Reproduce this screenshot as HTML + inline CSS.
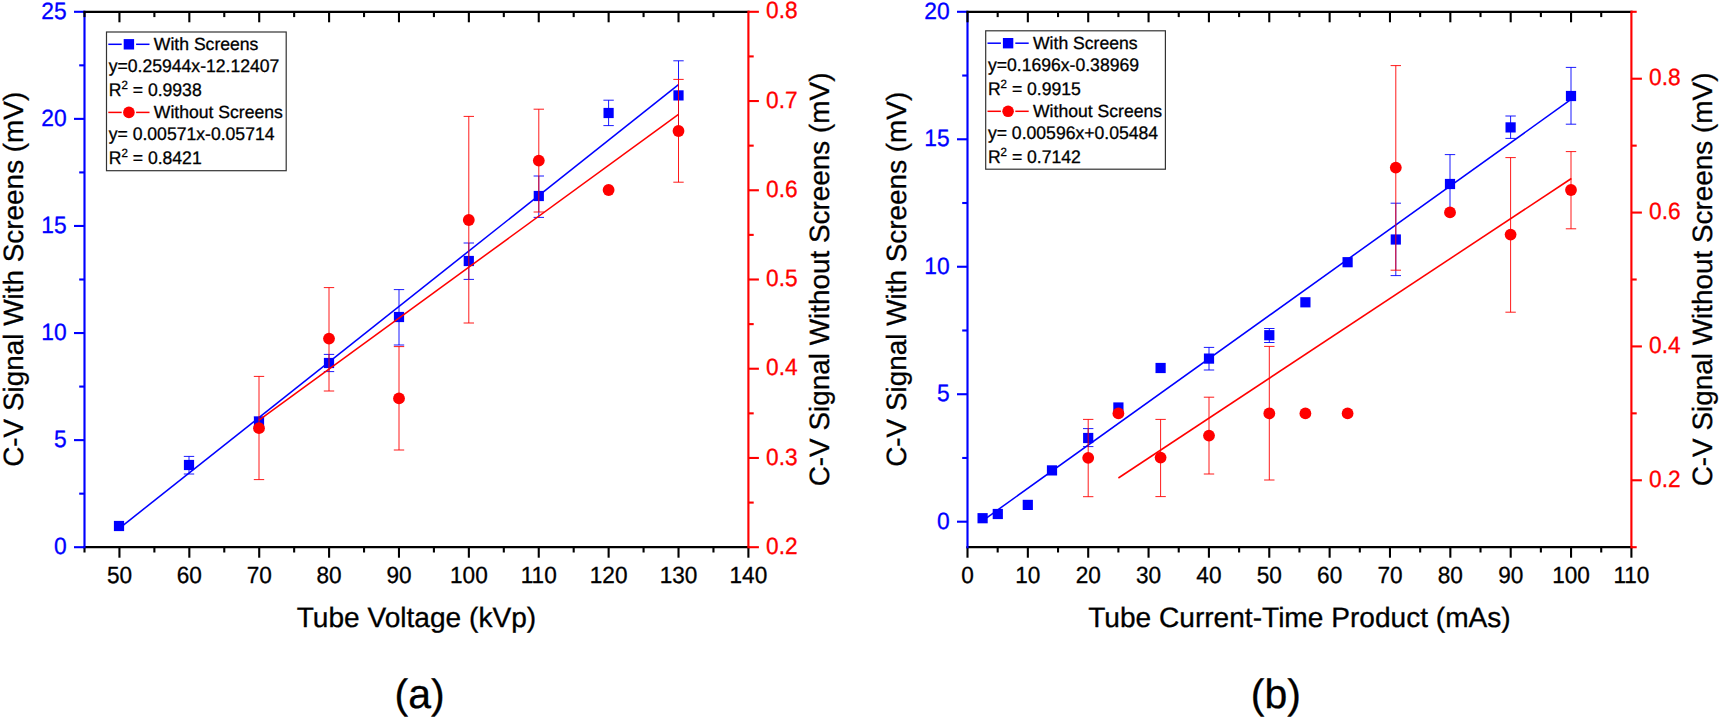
<!DOCTYPE html>
<html lang="en"><head><meta charset="utf-8"><title>C-V signal charts</title>
<style>html,body{margin:0;padding:0;background:#fff;}body{width:1720px;height:720px;overflow:hidden;}svg{display:block;font-family:"Liberation Sans",sans-serif;}svg text{white-space:pre;stroke-width:0.3px;stroke-linejoin:round;text-rendering:geometricPrecision;}</style></head><body>
<svg width="1720" height="720" viewBox="0 0 1720 720">
<rect width="1720" height="720" fill="#fff"/>
<g class="chart">
<line x1="189" y1="456.4" x2="189" y2="474" stroke="#0000ff" stroke-width="0.9" stroke-opacity="1"/>
<line x1="183.8" y1="456.4" x2="194.2" y2="456.4" stroke="#0000ff" stroke-width="0.9" stroke-opacity="1"/>
<line x1="183.8" y1="474" x2="194.2" y2="474" stroke="#0000ff" stroke-width="0.9" stroke-opacity="1"/>
<line x1="259" y1="416.8" x2="259" y2="427.2" stroke="#0000ff" stroke-width="0.9" stroke-opacity="1"/>
<line x1="253.8" y1="416.8" x2="264.2" y2="416.8" stroke="#0000ff" stroke-width="0.9" stroke-opacity="1"/>
<line x1="253.8" y1="427.2" x2="264.2" y2="427.2" stroke="#0000ff" stroke-width="0.9" stroke-opacity="1"/>
<line x1="329" y1="354.4" x2="329" y2="371.6" stroke="#0000ff" stroke-width="0.9" stroke-opacity="1"/>
<line x1="323.8" y1="354.4" x2="334.2" y2="354.4" stroke="#0000ff" stroke-width="0.9" stroke-opacity="1"/>
<line x1="323.8" y1="371.6" x2="334.2" y2="371.6" stroke="#0000ff" stroke-width="0.9" stroke-opacity="1"/>
<line x1="399" y1="289.6" x2="399" y2="345" stroke="#0000ff" stroke-width="0.9" stroke-opacity="1"/>
<line x1="393.8" y1="289.6" x2="404.2" y2="289.6" stroke="#0000ff" stroke-width="0.9" stroke-opacity="1"/>
<line x1="393.8" y1="345" x2="404.2" y2="345" stroke="#0000ff" stroke-width="0.9" stroke-opacity="1"/>
<line x1="468.8" y1="243" x2="468.8" y2="279.4" stroke="#0000ff" stroke-width="0.9" stroke-opacity="1"/>
<line x1="463.6" y1="243" x2="474" y2="243" stroke="#0000ff" stroke-width="0.9" stroke-opacity="1"/>
<line x1="463.6" y1="279.4" x2="474" y2="279.4" stroke="#0000ff" stroke-width="0.9" stroke-opacity="1"/>
<line x1="538.8" y1="176" x2="538.8" y2="217.4" stroke="#0000ff" stroke-width="0.9" stroke-opacity="1"/>
<line x1="533.6" y1="176" x2="544" y2="176" stroke="#0000ff" stroke-width="0.9" stroke-opacity="1"/>
<line x1="533.6" y1="217.4" x2="544" y2="217.4" stroke="#0000ff" stroke-width="0.9" stroke-opacity="1"/>
<line x1="608.6" y1="100.2" x2="608.6" y2="125.6" stroke="#0000ff" stroke-width="0.9" stroke-opacity="1"/>
<line x1="603.4" y1="100.2" x2="613.8" y2="100.2" stroke="#0000ff" stroke-width="0.9" stroke-opacity="1"/>
<line x1="603.4" y1="125.6" x2="613.8" y2="125.6" stroke="#0000ff" stroke-width="0.9" stroke-opacity="1"/>
<line x1="678.5" y1="60.8" x2="678.5" y2="130" stroke="#0000ff" stroke-width="0.9" stroke-opacity="1"/>
<line x1="673.3" y1="60.8" x2="683.7" y2="60.8" stroke="#0000ff" stroke-width="0.9" stroke-opacity="1"/>
<line x1="673.3" y1="130" x2="683.7" y2="130" stroke="#0000ff" stroke-width="0.9" stroke-opacity="1"/>
<line x1="119" y1="528.6" x2="678.5" y2="84.7" stroke="#0000ff" stroke-width="1.55"/>
<rect x="113.9" y="520.9" width="10.2" height="10.2" fill="#0000ff"/>
<rect x="183.9" y="459.9" width="10.2" height="10.2" fill="#0000ff"/>
<rect x="253.9" y="416.9" width="10.2" height="10.2" fill="#0000ff"/>
<rect x="323.9" y="357.9" width="10.2" height="10.2" fill="#0000ff"/>
<rect x="393.9" y="311.9" width="10.2" height="10.2" fill="#0000ff"/>
<rect x="463.7" y="255.9" width="10.2" height="10.2" fill="#0000ff"/>
<rect x="533.7" y="190.9" width="10.2" height="10.2" fill="#0000ff"/>
<rect x="603.5" y="107.9" width="10.2" height="10.2" fill="#0000ff"/>
<rect x="673.4" y="90.3" width="10.2" height="10.2" fill="#0000ff"/>
<line x1="259" y1="376.4" x2="259" y2="479.6" stroke="#ff0000" stroke-width="0.9" stroke-opacity="1"/>
<line x1="253.8" y1="376.4" x2="264.2" y2="376.4" stroke="#ff0000" stroke-width="0.9" stroke-opacity="1"/>
<line x1="253.8" y1="479.6" x2="264.2" y2="479.6" stroke="#ff0000" stroke-width="0.9" stroke-opacity="1"/>
<line x1="329" y1="287.6" x2="329" y2="391" stroke="#ff0000" stroke-width="0.9" stroke-opacity="1"/>
<line x1="323.8" y1="287.6" x2="334.2" y2="287.6" stroke="#ff0000" stroke-width="0.9" stroke-opacity="1"/>
<line x1="323.8" y1="391" x2="334.2" y2="391" stroke="#ff0000" stroke-width="0.9" stroke-opacity="1"/>
<line x1="399" y1="346.6" x2="399" y2="450" stroke="#ff0000" stroke-width="0.9" stroke-opacity="1"/>
<line x1="393.8" y1="346.6" x2="404.2" y2="346.6" stroke="#ff0000" stroke-width="0.9" stroke-opacity="1"/>
<line x1="393.8" y1="450" x2="404.2" y2="450" stroke="#ff0000" stroke-width="0.9" stroke-opacity="1"/>
<line x1="468.8" y1="116.4" x2="468.8" y2="323" stroke="#ff0000" stroke-width="0.9" stroke-opacity="1"/>
<line x1="463.6" y1="116.4" x2="474" y2="116.4" stroke="#ff0000" stroke-width="0.9" stroke-opacity="1"/>
<line x1="463.6" y1="323" x2="474" y2="323" stroke="#ff0000" stroke-width="0.9" stroke-opacity="1"/>
<line x1="538.8" y1="109.2" x2="538.8" y2="212" stroke="#ff0000" stroke-width="0.9" stroke-opacity="1"/>
<line x1="533.6" y1="109.2" x2="544" y2="109.2" stroke="#ff0000" stroke-width="0.9" stroke-opacity="1"/>
<line x1="533.6" y1="212" x2="544" y2="212" stroke="#ff0000" stroke-width="0.9" stroke-opacity="1"/>
<line x1="678.5" y1="79.4" x2="678.5" y2="182.2" stroke="#ff0000" stroke-width="0.9" stroke-opacity="1"/>
<line x1="673.3" y1="79.4" x2="683.7" y2="79.4" stroke="#ff0000" stroke-width="0.9" stroke-opacity="1"/>
<line x1="673.3" y1="182.2" x2="683.7" y2="182.2" stroke="#ff0000" stroke-width="0.9" stroke-opacity="1"/>
<line x1="259" y1="420.2" x2="678.5" y2="114.3" stroke="#ff0000" stroke-width="1.55"/>
<circle cx="259" cy="428.2" r="5.9" fill="#ff0000"/>
<circle cx="329" cy="338.6" r="5.9" fill="#ff0000"/>
<circle cx="399" cy="398.4" r="5.9" fill="#ff0000"/>
<circle cx="468.8" cy="220" r="5.9" fill="#ff0000"/>
<circle cx="538.8" cy="160.6" r="5.9" fill="#ff0000"/>
<circle cx="608.6" cy="190" r="5.9" fill="#ff0000"/>
<circle cx="678.5" cy="131" r="5.9" fill="#ff0000"/>
<line x1="83.42" y1="547.2" x2="749.48" y2="547.2" stroke="#000000" stroke-width="2.3"/>
<line x1="84.5" y1="547.2" x2="84.5" y2="552.5" stroke="#000000" stroke-width="2.1"/>
<line x1="119.44" y1="547.2" x2="119.44" y2="557.7" stroke="#000000" stroke-width="2.1"/>
<text transform="translate(119.44 582.5) scale(1 1.035)" font-size="22.6" fill="#000000" stroke="#000000" text-anchor="middle">50</text>
<line x1="154.38" y1="547.2" x2="154.38" y2="552.5" stroke="#000000" stroke-width="2.1"/>
<line x1="189.33" y1="547.2" x2="189.33" y2="557.7" stroke="#000000" stroke-width="2.1"/>
<text transform="translate(189.33 582.5) scale(1 1.035)" font-size="22.6" fill="#000000" stroke="#000000" text-anchor="middle">60</text>
<line x1="224.27" y1="547.2" x2="224.27" y2="552.5" stroke="#000000" stroke-width="2.1"/>
<line x1="259.21" y1="547.2" x2="259.21" y2="557.7" stroke="#000000" stroke-width="2.1"/>
<text transform="translate(259.21 582.5) scale(1 1.035)" font-size="22.6" fill="#000000" stroke="#000000" text-anchor="middle">70</text>
<line x1="294.15" y1="547.2" x2="294.15" y2="552.5" stroke="#000000" stroke-width="2.1"/>
<line x1="329.09" y1="547.2" x2="329.09" y2="557.7" stroke="#000000" stroke-width="2.1"/>
<text transform="translate(329.09 582.5) scale(1 1.035)" font-size="22.6" fill="#000000" stroke="#000000" text-anchor="middle">80</text>
<line x1="364.04" y1="547.2" x2="364.04" y2="552.5" stroke="#000000" stroke-width="2.1"/>
<line x1="398.98" y1="547.2" x2="398.98" y2="557.7" stroke="#000000" stroke-width="2.1"/>
<text transform="translate(398.98 582.5) scale(1 1.035)" font-size="22.6" fill="#000000" stroke="#000000" text-anchor="middle">90</text>
<line x1="433.92" y1="547.2" x2="433.92" y2="552.5" stroke="#000000" stroke-width="2.1"/>
<line x1="468.86" y1="547.2" x2="468.86" y2="557.7" stroke="#000000" stroke-width="2.1"/>
<text transform="translate(468.86 582.5) scale(1 1.035)" font-size="22.6" fill="#000000" stroke="#000000" text-anchor="middle">100</text>
<line x1="503.81" y1="547.2" x2="503.81" y2="552.5" stroke="#000000" stroke-width="2.1"/>
<line x1="538.75" y1="547.2" x2="538.75" y2="557.7" stroke="#000000" stroke-width="2.1"/>
<text transform="translate(538.75 582.5) scale(1 1.035)" font-size="22.6" fill="#000000" stroke="#000000" text-anchor="middle">110</text>
<line x1="573.69" y1="547.2" x2="573.69" y2="552.5" stroke="#000000" stroke-width="2.1"/>
<line x1="608.63" y1="547.2" x2="608.63" y2="557.7" stroke="#000000" stroke-width="2.1"/>
<text transform="translate(608.63 582.5) scale(1 1.035)" font-size="22.6" fill="#000000" stroke="#000000" text-anchor="middle">120</text>
<line x1="643.57" y1="547.2" x2="643.57" y2="552.5" stroke="#000000" stroke-width="2.1"/>
<line x1="678.52" y1="547.2" x2="678.52" y2="557.7" stroke="#000000" stroke-width="2.1"/>
<text transform="translate(678.52 582.5) scale(1 1.035)" font-size="22.6" fill="#000000" stroke="#000000" text-anchor="middle">130</text>
<line x1="713.46" y1="547.2" x2="713.46" y2="552.5" stroke="#000000" stroke-width="2.1"/>
<line x1="748.4" y1="547.2" x2="748.4" y2="557.7" stroke="#000000" stroke-width="2.1"/>
<text transform="translate(748.4 582.5) scale(1 1.035)" font-size="22.6" fill="#000000" stroke="#000000" text-anchor="middle">140</text>
<line x1="84.5" y1="10.65" x2="84.5" y2="548.35" stroke="#0000ff" stroke-width="2.15"/>
<line x1="74" y1="547.2" x2="84.5" y2="547.2" stroke="#0000ff" stroke-width="2.1"/>
<text transform="translate(66.7 554.05) scale(1 1.035)" font-size="22.8" fill="#0000ff" stroke="#0000ff" text-anchor="end">0</text>
<line x1="79.2" y1="493.66" x2="84.5" y2="493.66" stroke="#0000ff" stroke-width="2.1"/>
<line x1="74" y1="440.12" x2="84.5" y2="440.12" stroke="#0000ff" stroke-width="2.1"/>
<text transform="translate(66.7 446.97) scale(1 1.035)" font-size="22.8" fill="#0000ff" stroke="#0000ff" text-anchor="end">5</text>
<line x1="79.2" y1="386.58" x2="84.5" y2="386.58" stroke="#0000ff" stroke-width="2.1"/>
<line x1="74" y1="333.04" x2="84.5" y2="333.04" stroke="#0000ff" stroke-width="2.1"/>
<text transform="translate(66.7 339.89) scale(1 1.035)" font-size="22.8" fill="#0000ff" stroke="#0000ff" text-anchor="end">10</text>
<line x1="79.2" y1="279.5" x2="84.5" y2="279.5" stroke="#0000ff" stroke-width="2.1"/>
<line x1="74" y1="225.96" x2="84.5" y2="225.96" stroke="#0000ff" stroke-width="2.1"/>
<text transform="translate(66.7 232.81) scale(1 1.035)" font-size="22.8" fill="#0000ff" stroke="#0000ff" text-anchor="end">15</text>
<line x1="79.2" y1="172.42" x2="84.5" y2="172.42" stroke="#0000ff" stroke-width="2.1"/>
<line x1="74" y1="118.88" x2="84.5" y2="118.88" stroke="#0000ff" stroke-width="2.1"/>
<text transform="translate(66.7 125.73) scale(1 1.035)" font-size="22.8" fill="#0000ff" stroke="#0000ff" text-anchor="end">20</text>
<line x1="79.2" y1="65.34" x2="84.5" y2="65.34" stroke="#0000ff" stroke-width="2.1"/>
<line x1="74" y1="11.8" x2="84.5" y2="11.8" stroke="#0000ff" stroke-width="2.1"/>
<text transform="translate(66.7 18.65) scale(1 1.035)" font-size="22.8" fill="#0000ff" stroke="#0000ff" text-anchor="end">25</text>
<line x1="83.42" y1="11.8" x2="749.48" y2="11.8" stroke="#000000" stroke-width="2.3"/>
<line x1="84.5" y1="11.8" x2="84.5" y2="17.1" stroke="#000000" stroke-width="2.1"/>
<line x1="119.44" y1="11.8" x2="119.44" y2="22.3" stroke="#000000" stroke-width="2.1"/>
<line x1="154.38" y1="11.8" x2="154.38" y2="17.1" stroke="#000000" stroke-width="2.1"/>
<line x1="189.33" y1="11.8" x2="189.33" y2="22.3" stroke="#000000" stroke-width="2.1"/>
<line x1="224.27" y1="11.8" x2="224.27" y2="17.1" stroke="#000000" stroke-width="2.1"/>
<line x1="259.21" y1="11.8" x2="259.21" y2="22.3" stroke="#000000" stroke-width="2.1"/>
<line x1="294.15" y1="11.8" x2="294.15" y2="17.1" stroke="#000000" stroke-width="2.1"/>
<line x1="329.09" y1="11.8" x2="329.09" y2="22.3" stroke="#000000" stroke-width="2.1"/>
<line x1="364.04" y1="11.8" x2="364.04" y2="17.1" stroke="#000000" stroke-width="2.1"/>
<line x1="398.98" y1="11.8" x2="398.98" y2="22.3" stroke="#000000" stroke-width="2.1"/>
<line x1="433.92" y1="11.8" x2="433.92" y2="17.1" stroke="#000000" stroke-width="2.1"/>
<line x1="468.86" y1="11.8" x2="468.86" y2="22.3" stroke="#000000" stroke-width="2.1"/>
<line x1="503.81" y1="11.8" x2="503.81" y2="17.1" stroke="#000000" stroke-width="2.1"/>
<line x1="538.75" y1="11.8" x2="538.75" y2="22.3" stroke="#000000" stroke-width="2.1"/>
<line x1="573.69" y1="11.8" x2="573.69" y2="17.1" stroke="#000000" stroke-width="2.1"/>
<line x1="608.63" y1="11.8" x2="608.63" y2="22.3" stroke="#000000" stroke-width="2.1"/>
<line x1="643.57" y1="11.8" x2="643.57" y2="17.1" stroke="#000000" stroke-width="2.1"/>
<line x1="678.52" y1="11.8" x2="678.52" y2="22.3" stroke="#000000" stroke-width="2.1"/>
<line x1="713.46" y1="11.8" x2="713.46" y2="17.1" stroke="#000000" stroke-width="2.1"/>
<line x1="748.4" y1="10.65" x2="748.4" y2="548.35" stroke="#ff0000" stroke-width="2.15"/>
<line x1="748.4" y1="547.2" x2="758.9" y2="547.2" stroke="#ff0000" stroke-width="2.1"/>
<text transform="translate(766.1 553.75) scale(1 1.035)" font-size="22.7" fill="#ff0000" stroke="#ff0000" text-anchor="start">0.2</text>
<line x1="748.4" y1="502.58" x2="753.7" y2="502.58" stroke="#ff0000" stroke-width="2.1"/>
<line x1="748.4" y1="457.97" x2="758.9" y2="457.97" stroke="#ff0000" stroke-width="2.1"/>
<text transform="translate(766.1 464.52) scale(1 1.035)" font-size="22.7" fill="#ff0000" stroke="#ff0000" text-anchor="start">0.3</text>
<line x1="748.4" y1="413.35" x2="753.7" y2="413.35" stroke="#ff0000" stroke-width="2.1"/>
<line x1="748.4" y1="368.73" x2="758.9" y2="368.73" stroke="#ff0000" stroke-width="2.1"/>
<text transform="translate(766.1 375.28) scale(1 1.035)" font-size="22.7" fill="#ff0000" stroke="#ff0000" text-anchor="start">0.4</text>
<line x1="748.4" y1="324.12" x2="753.7" y2="324.12" stroke="#ff0000" stroke-width="2.1"/>
<line x1="748.4" y1="279.5" x2="758.9" y2="279.5" stroke="#ff0000" stroke-width="2.1"/>
<text transform="translate(766.1 286.05) scale(1 1.035)" font-size="22.7" fill="#ff0000" stroke="#ff0000" text-anchor="start">0.5</text>
<line x1="748.4" y1="234.88" x2="753.7" y2="234.88" stroke="#ff0000" stroke-width="2.1"/>
<line x1="748.4" y1="190.27" x2="758.9" y2="190.27" stroke="#ff0000" stroke-width="2.1"/>
<text transform="translate(766.1 196.82) scale(1 1.035)" font-size="22.7" fill="#ff0000" stroke="#ff0000" text-anchor="start">0.6</text>
<line x1="748.4" y1="145.65" x2="753.7" y2="145.65" stroke="#ff0000" stroke-width="2.1"/>
<line x1="748.4" y1="101.03" x2="758.9" y2="101.03" stroke="#ff0000" stroke-width="2.1"/>
<text transform="translate(766.1 107.58) scale(1 1.035)" font-size="22.7" fill="#ff0000" stroke="#ff0000" text-anchor="start">0.7</text>
<line x1="748.4" y1="56.42" x2="753.7" y2="56.42" stroke="#ff0000" stroke-width="2.1"/>
<line x1="748.4" y1="11.8" x2="758.9" y2="11.8" stroke="#ff0000" stroke-width="2.1"/>
<text transform="translate(766.1 18.35) scale(1 1.035)" font-size="22.7" fill="#ff0000" stroke="#ff0000" text-anchor="start">0.8</text>
<text transform="translate(416.45 626.7)" font-size="28.1" fill="#000000" stroke="#000000" text-anchor="middle">Tube Voltage (kVp)</text>
<text transform="translate(22.6 279.3) rotate(-90)" font-size="27.9" fill="#000000" stroke="#000000" text-anchor="middle">C-V Signal With Screens (mV)</text>
<text transform="translate(828.8 279.45) rotate(-90)" font-size="27.9" fill="#000000" stroke="#000000" text-anchor="middle">C-V Signal Without Screens (mV)</text>
<text transform="translate(419.6 708.4)" font-size="41" fill="#000000" stroke="#000000" text-anchor="middle">(a)</text>
<rect x="106.5" y="32" width="179.7" height="138.7" fill="#fff" stroke="#333" stroke-width="1.2"/>
<line x1="108.3" y1="44.3" x2="121.7" y2="44.3" stroke="#0000ff" stroke-width="1.5"/>
<line x1="136.1" y1="44.3" x2="149.5" y2="44.3" stroke="#0000ff" stroke-width="1.5"/>
<rect x="123.7" y="39.1" width="10.4" height="10.4" fill="#0000ff"/>
<text transform="translate(153.8 49.7)" font-size="17.6" fill="#000000" stroke="#000000" text-anchor="start">With Screens</text>
<text transform="translate(108.7 72.3) scale(1 1.035)" font-size="17.6" fill="#000000" stroke="#000000" text-anchor="start">y=0.25944x-12.12407</text>
<text transform="translate(108.7 95.9) scale(1 1.035)" font-size="17.6" fill="#000000" stroke="#000000" text-anchor="start">R<tspan font-size="11.5" dy="-6.8">2</tspan><tspan dy="6.8"> = 0.9938</tspan></text>
<line x1="108.3" y1="112.4" x2="121.7" y2="112.4" stroke="#ff0000" stroke-width="1.5"/>
<line x1="136.1" y1="112.4" x2="149.5" y2="112.4" stroke="#ff0000" stroke-width="1.5"/>
<circle cx="128.9" cy="112.4" r="5.8" fill="#ff0000"/>
<text transform="translate(153.8 117.8)" font-size="17.6" fill="#000000" stroke="#000000" text-anchor="start">Without Screens</text>
<text transform="translate(108.7 139.7) scale(1 1.035)" font-size="17.6" fill="#000000" stroke="#000000" text-anchor="start">y= 0.00571x-0.05714</text>
<text transform="translate(108.7 164.4) scale(1 1.035)" font-size="17.6" fill="#000000" stroke="#000000" text-anchor="start">R<tspan font-size="11.5" dy="-6.8">2</tspan><tspan dy="6.8"> = 0.8421</tspan></text>
</g>
<g class="chart">
<line x1="1088.2" y1="428.6" x2="1088.2" y2="446.6" stroke="#0000ff" stroke-width="0.9" stroke-opacity="1"/>
<line x1="1083" y1="428.6" x2="1093.4" y2="428.6" stroke="#0000ff" stroke-width="0.9" stroke-opacity="1"/>
<line x1="1083" y1="446.6" x2="1093.4" y2="446.6" stroke="#0000ff" stroke-width="0.9" stroke-opacity="1"/>
<line x1="1209" y1="347.4" x2="1209" y2="370" stroke="#0000ff" stroke-width="0.9" stroke-opacity="1"/>
<line x1="1203.8" y1="347.4" x2="1214.2" y2="347.4" stroke="#0000ff" stroke-width="0.9" stroke-opacity="1"/>
<line x1="1203.8" y1="370" x2="1214.2" y2="370" stroke="#0000ff" stroke-width="0.9" stroke-opacity="1"/>
<line x1="1269.3" y1="328.5" x2="1269.3" y2="342.5" stroke="#0000ff" stroke-width="0.9" stroke-opacity="1"/>
<line x1="1264.1" y1="328.5" x2="1274.5" y2="328.5" stroke="#0000ff" stroke-width="0.9" stroke-opacity="1"/>
<line x1="1264.1" y1="342.5" x2="1274.5" y2="342.5" stroke="#0000ff" stroke-width="0.9" stroke-opacity="1"/>
<line x1="1395.8" y1="203.2" x2="1395.8" y2="275.6" stroke="#0000ff" stroke-width="0.9" stroke-opacity="1"/>
<line x1="1390.6" y1="203.2" x2="1401" y2="203.2" stroke="#0000ff" stroke-width="0.9" stroke-opacity="1"/>
<line x1="1390.6" y1="275.6" x2="1401" y2="275.6" stroke="#0000ff" stroke-width="0.9" stroke-opacity="1"/>
<line x1="1450" y1="154.6" x2="1450" y2="213.4" stroke="#0000ff" stroke-width="0.9" stroke-opacity="1"/>
<line x1="1444.8" y1="154.6" x2="1455.2" y2="154.6" stroke="#0000ff" stroke-width="0.9" stroke-opacity="1"/>
<line x1="1444.8" y1="213.4" x2="1455.2" y2="213.4" stroke="#0000ff" stroke-width="0.9" stroke-opacity="1"/>
<line x1="1510.6" y1="116" x2="1510.6" y2="138.4" stroke="#0000ff" stroke-width="0.9" stroke-opacity="1"/>
<line x1="1505.4" y1="116" x2="1515.8" y2="116" stroke="#0000ff" stroke-width="0.9" stroke-opacity="1"/>
<line x1="1505.4" y1="138.4" x2="1515.8" y2="138.4" stroke="#0000ff" stroke-width="0.9" stroke-opacity="1"/>
<line x1="1571" y1="67.4" x2="1571" y2="124.2" stroke="#0000ff" stroke-width="0.9" stroke-opacity="1"/>
<line x1="1565.8" y1="67.4" x2="1576.2" y2="67.4" stroke="#0000ff" stroke-width="0.9" stroke-opacity="1"/>
<line x1="1565.8" y1="124.2" x2="1576.2" y2="124.2" stroke="#0000ff" stroke-width="0.9" stroke-opacity="1"/>
<line x1="982.5" y1="520.8" x2="1571.4" y2="99.2" stroke="#0000ff" stroke-width="1.55"/>
<rect x="977.5" y="513.1" width="10.2" height="10.2" fill="#0000ff"/>
<rect x="992.7" y="508.9" width="10.2" height="10.2" fill="#0000ff"/>
<rect x="1022.7" y="499.8" width="10.2" height="10.2" fill="#0000ff"/>
<rect x="1046.9" y="465.3" width="10.2" height="10.2" fill="#0000ff"/>
<rect x="1083.1" y="432.9" width="10.2" height="10.2" fill="#0000ff"/>
<rect x="1113.3" y="402.4" width="10.2" height="10.2" fill="#0000ff"/>
<rect x="1155.5" y="362.9" width="10.2" height="10.2" fill="#0000ff"/>
<rect x="1203.9" y="353.5" width="10.2" height="10.2" fill="#0000ff"/>
<rect x="1264.2" y="330.1" width="10.2" height="10.2" fill="#0000ff"/>
<rect x="1300.3" y="297.2" width="10.2" height="10.2" fill="#0000ff"/>
<rect x="1342.5" y="257.1" width="10.2" height="10.2" fill="#0000ff"/>
<rect x="1390.7" y="234.4" width="10.2" height="10.2" fill="#0000ff"/>
<rect x="1444.9" y="178.9" width="10.2" height="10.2" fill="#0000ff"/>
<rect x="1505.5" y="122.3" width="10.2" height="10.2" fill="#0000ff"/>
<rect x="1565.9" y="90.9" width="10.2" height="10.2" fill="#0000ff"/>
<line x1="1088.2" y1="419.4" x2="1088.2" y2="496.7" stroke="#ff0000" stroke-width="0.9" stroke-opacity="1"/>
<line x1="1083" y1="419.4" x2="1093.4" y2="419.4" stroke="#ff0000" stroke-width="0.9" stroke-opacity="1"/>
<line x1="1083" y1="496.7" x2="1093.4" y2="496.7" stroke="#ff0000" stroke-width="0.9" stroke-opacity="1"/>
<line x1="1160.6" y1="419.4" x2="1160.6" y2="496.6" stroke="#ff0000" stroke-width="0.9" stroke-opacity="1"/>
<line x1="1155.4" y1="419.4" x2="1165.8" y2="419.4" stroke="#ff0000" stroke-width="0.9" stroke-opacity="1"/>
<line x1="1155.4" y1="496.6" x2="1165.8" y2="496.6" stroke="#ff0000" stroke-width="0.9" stroke-opacity="1"/>
<line x1="1209" y1="397.2" x2="1209" y2="474" stroke="#ff0000" stroke-width="0.9" stroke-opacity="1"/>
<line x1="1203.8" y1="397.2" x2="1214.2" y2="397.2" stroke="#ff0000" stroke-width="0.9" stroke-opacity="1"/>
<line x1="1203.8" y1="474" x2="1214.2" y2="474" stroke="#ff0000" stroke-width="0.9" stroke-opacity="1"/>
<line x1="1269.3" y1="346.4" x2="1269.3" y2="480" stroke="#ff0000" stroke-width="0.9" stroke-opacity="1"/>
<line x1="1264.1" y1="346.4" x2="1274.5" y2="346.4" stroke="#ff0000" stroke-width="0.9" stroke-opacity="1"/>
<line x1="1264.1" y1="480" x2="1274.5" y2="480" stroke="#ff0000" stroke-width="0.9" stroke-opacity="1"/>
<line x1="1395.8" y1="65.6" x2="1395.8" y2="270.2" stroke="#ff0000" stroke-width="0.9" stroke-opacity="1"/>
<line x1="1390.6" y1="65.6" x2="1401" y2="65.6" stroke="#ff0000" stroke-width="0.9" stroke-opacity="1"/>
<line x1="1390.6" y1="270.2" x2="1401" y2="270.2" stroke="#ff0000" stroke-width="0.9" stroke-opacity="1"/>
<line x1="1510.6" y1="157.6" x2="1510.6" y2="312.2" stroke="#ff0000" stroke-width="0.9" stroke-opacity="1"/>
<line x1="1505.4" y1="157.6" x2="1515.8" y2="157.6" stroke="#ff0000" stroke-width="0.9" stroke-opacity="1"/>
<line x1="1505.4" y1="312.2" x2="1515.8" y2="312.2" stroke="#ff0000" stroke-width="0.9" stroke-opacity="1"/>
<line x1="1571" y1="151.6" x2="1571" y2="228.8" stroke="#ff0000" stroke-width="0.9" stroke-opacity="1"/>
<line x1="1565.8" y1="151.6" x2="1576.2" y2="151.6" stroke="#ff0000" stroke-width="0.9" stroke-opacity="1"/>
<line x1="1565.8" y1="228.8" x2="1576.2" y2="228.8" stroke="#ff0000" stroke-width="0.9" stroke-opacity="1"/>
<line x1="1118.4" y1="478" x2="1571.4" y2="178.5" stroke="#ff0000" stroke-width="1.55"/>
<circle cx="1088.2" cy="457.8" r="5.9" fill="#ff0000"/>
<circle cx="1118.4" cy="413.4" r="5.9" fill="#ff0000"/>
<circle cx="1160.6" cy="457.6" r="5.9" fill="#ff0000"/>
<circle cx="1209" cy="435.6" r="5.9" fill="#ff0000"/>
<circle cx="1269.3" cy="413.4" r="5.9" fill="#ff0000"/>
<circle cx="1305.4" cy="413.4" r="5.9" fill="#ff0000"/>
<circle cx="1347.6" cy="413.4" r="5.9" fill="#ff0000"/>
<circle cx="1395.8" cy="167.6" r="5.9" fill="#ff0000"/>
<circle cx="1450" cy="212.4" r="5.9" fill="#ff0000"/>
<circle cx="1510.6" cy="234.6" r="5.9" fill="#ff0000"/>
<circle cx="1571" cy="190" r="5.9" fill="#ff0000"/>
<line x1="966.42" y1="547.2" x2="1632.48" y2="547.2" stroke="#000000" stroke-width="2.3"/>
<line x1="967.5" y1="547.2" x2="967.5" y2="557.7" stroke="#000000" stroke-width="2.1"/>
<text transform="translate(967.5 582.5) scale(1 1.035)" font-size="22.6" fill="#000000" stroke="#000000" text-anchor="middle">0</text>
<line x1="997.68" y1="547.2" x2="997.68" y2="552.5" stroke="#000000" stroke-width="2.1"/>
<line x1="1027.85" y1="547.2" x2="1027.85" y2="557.7" stroke="#000000" stroke-width="2.1"/>
<text transform="translate(1027.85 582.5) scale(1 1.035)" font-size="22.6" fill="#000000" stroke="#000000" text-anchor="middle">10</text>
<line x1="1058.03" y1="547.2" x2="1058.03" y2="552.5" stroke="#000000" stroke-width="2.1"/>
<line x1="1088.21" y1="547.2" x2="1088.21" y2="557.7" stroke="#000000" stroke-width="2.1"/>
<text transform="translate(1088.21 582.5) scale(1 1.035)" font-size="22.6" fill="#000000" stroke="#000000" text-anchor="middle">20</text>
<line x1="1118.39" y1="547.2" x2="1118.39" y2="552.5" stroke="#000000" stroke-width="2.1"/>
<line x1="1148.56" y1="547.2" x2="1148.56" y2="557.7" stroke="#000000" stroke-width="2.1"/>
<text transform="translate(1148.56 582.5) scale(1 1.035)" font-size="22.6" fill="#000000" stroke="#000000" text-anchor="middle">30</text>
<line x1="1178.74" y1="547.2" x2="1178.74" y2="552.5" stroke="#000000" stroke-width="2.1"/>
<line x1="1208.92" y1="547.2" x2="1208.92" y2="557.7" stroke="#000000" stroke-width="2.1"/>
<text transform="translate(1208.92 582.5) scale(1 1.035)" font-size="22.6" fill="#000000" stroke="#000000" text-anchor="middle">40</text>
<line x1="1239.1" y1="547.2" x2="1239.1" y2="552.5" stroke="#000000" stroke-width="2.1"/>
<line x1="1269.27" y1="547.2" x2="1269.27" y2="557.7" stroke="#000000" stroke-width="2.1"/>
<text transform="translate(1269.27 582.5) scale(1 1.035)" font-size="22.6" fill="#000000" stroke="#000000" text-anchor="middle">50</text>
<line x1="1299.45" y1="547.2" x2="1299.45" y2="552.5" stroke="#000000" stroke-width="2.1"/>
<line x1="1329.63" y1="547.2" x2="1329.63" y2="557.7" stroke="#000000" stroke-width="2.1"/>
<text transform="translate(1329.63 582.5) scale(1 1.035)" font-size="22.6" fill="#000000" stroke="#000000" text-anchor="middle">60</text>
<line x1="1359.8" y1="547.2" x2="1359.8" y2="552.5" stroke="#000000" stroke-width="2.1"/>
<line x1="1389.98" y1="547.2" x2="1389.98" y2="557.7" stroke="#000000" stroke-width="2.1"/>
<text transform="translate(1389.98 582.5) scale(1 1.035)" font-size="22.6" fill="#000000" stroke="#000000" text-anchor="middle">70</text>
<line x1="1420.16" y1="547.2" x2="1420.16" y2="552.5" stroke="#000000" stroke-width="2.1"/>
<line x1="1450.34" y1="547.2" x2="1450.34" y2="557.7" stroke="#000000" stroke-width="2.1"/>
<text transform="translate(1450.34 582.5) scale(1 1.035)" font-size="22.6" fill="#000000" stroke="#000000" text-anchor="middle">80</text>
<line x1="1480.51" y1="547.2" x2="1480.51" y2="552.5" stroke="#000000" stroke-width="2.1"/>
<line x1="1510.69" y1="547.2" x2="1510.69" y2="557.7" stroke="#000000" stroke-width="2.1"/>
<text transform="translate(1510.69 582.5) scale(1 1.035)" font-size="22.6" fill="#000000" stroke="#000000" text-anchor="middle">90</text>
<line x1="1540.87" y1="547.2" x2="1540.87" y2="552.5" stroke="#000000" stroke-width="2.1"/>
<line x1="1571.05" y1="547.2" x2="1571.05" y2="557.7" stroke="#000000" stroke-width="2.1"/>
<text transform="translate(1571.05 582.5) scale(1 1.035)" font-size="22.6" fill="#000000" stroke="#000000" text-anchor="middle">100</text>
<line x1="1601.22" y1="547.2" x2="1601.22" y2="552.5" stroke="#000000" stroke-width="2.1"/>
<line x1="1631.4" y1="547.2" x2="1631.4" y2="557.7" stroke="#000000" stroke-width="2.1"/>
<text transform="translate(1631.4 582.5) scale(1 1.035)" font-size="22.6" fill="#000000" stroke="#000000" text-anchor="middle">110</text>
<line x1="967.5" y1="10.65" x2="967.5" y2="548.35" stroke="#0000ff" stroke-width="2.15"/>
<line x1="957" y1="521.7" x2="967.5" y2="521.7" stroke="#0000ff" stroke-width="2.1"/>
<text transform="translate(949.7 528.55) scale(1 1.035)" font-size="22.8" fill="#0000ff" stroke="#0000ff" text-anchor="end">0</text>
<line x1="962.2" y1="457.97" x2="967.5" y2="457.97" stroke="#0000ff" stroke-width="2.1"/>
<line x1="957" y1="394.23" x2="967.5" y2="394.23" stroke="#0000ff" stroke-width="2.1"/>
<text transform="translate(949.7 401.08) scale(1 1.035)" font-size="22.8" fill="#0000ff" stroke="#0000ff" text-anchor="end">5</text>
<line x1="962.2" y1="330.49" x2="967.5" y2="330.49" stroke="#0000ff" stroke-width="2.1"/>
<line x1="957" y1="266.75" x2="967.5" y2="266.75" stroke="#0000ff" stroke-width="2.1"/>
<text transform="translate(949.7 273.6) scale(1 1.035)" font-size="22.8" fill="#0000ff" stroke="#0000ff" text-anchor="end">10</text>
<line x1="962.2" y1="203.01" x2="967.5" y2="203.01" stroke="#0000ff" stroke-width="2.1"/>
<line x1="957" y1="139.28" x2="967.5" y2="139.28" stroke="#0000ff" stroke-width="2.1"/>
<text transform="translate(949.7 146.13) scale(1 1.035)" font-size="22.8" fill="#0000ff" stroke="#0000ff" text-anchor="end">15</text>
<line x1="962.2" y1="75.54" x2="967.5" y2="75.54" stroke="#0000ff" stroke-width="2.1"/>
<line x1="957" y1="11.8" x2="967.5" y2="11.8" stroke="#0000ff" stroke-width="2.1"/>
<text transform="translate(949.7 18.65) scale(1 1.035)" font-size="22.8" fill="#0000ff" stroke="#0000ff" text-anchor="end">20</text>
<line x1="966.42" y1="11.8" x2="1632.48" y2="11.8" stroke="#000000" stroke-width="2.3"/>
<line x1="967.5" y1="11.8" x2="967.5" y2="22.3" stroke="#000000" stroke-width="2.1"/>
<line x1="997.68" y1="11.8" x2="997.68" y2="17.1" stroke="#000000" stroke-width="2.1"/>
<line x1="1027.85" y1="11.8" x2="1027.85" y2="22.3" stroke="#000000" stroke-width="2.1"/>
<line x1="1058.03" y1="11.8" x2="1058.03" y2="17.1" stroke="#000000" stroke-width="2.1"/>
<line x1="1088.21" y1="11.8" x2="1088.21" y2="22.3" stroke="#000000" stroke-width="2.1"/>
<line x1="1118.39" y1="11.8" x2="1118.39" y2="17.1" stroke="#000000" stroke-width="2.1"/>
<line x1="1148.56" y1="11.8" x2="1148.56" y2="22.3" stroke="#000000" stroke-width="2.1"/>
<line x1="1178.74" y1="11.8" x2="1178.74" y2="17.1" stroke="#000000" stroke-width="2.1"/>
<line x1="1208.92" y1="11.8" x2="1208.92" y2="22.3" stroke="#000000" stroke-width="2.1"/>
<line x1="1239.1" y1="11.8" x2="1239.1" y2="17.1" stroke="#000000" stroke-width="2.1"/>
<line x1="1269.27" y1="11.8" x2="1269.27" y2="22.3" stroke="#000000" stroke-width="2.1"/>
<line x1="1299.45" y1="11.8" x2="1299.45" y2="17.1" stroke="#000000" stroke-width="2.1"/>
<line x1="1329.63" y1="11.8" x2="1329.63" y2="22.3" stroke="#000000" stroke-width="2.1"/>
<line x1="1359.8" y1="11.8" x2="1359.8" y2="17.1" stroke="#000000" stroke-width="2.1"/>
<line x1="1389.98" y1="11.8" x2="1389.98" y2="22.3" stroke="#000000" stroke-width="2.1"/>
<line x1="1420.16" y1="11.8" x2="1420.16" y2="17.1" stroke="#000000" stroke-width="2.1"/>
<line x1="1450.34" y1="11.8" x2="1450.34" y2="22.3" stroke="#000000" stroke-width="2.1"/>
<line x1="1480.51" y1="11.8" x2="1480.51" y2="17.1" stroke="#000000" stroke-width="2.1"/>
<line x1="1510.69" y1="11.8" x2="1510.69" y2="22.3" stroke="#000000" stroke-width="2.1"/>
<line x1="1540.87" y1="11.8" x2="1540.87" y2="17.1" stroke="#000000" stroke-width="2.1"/>
<line x1="1571.05" y1="11.8" x2="1571.05" y2="22.3" stroke="#000000" stroke-width="2.1"/>
<line x1="1601.22" y1="11.8" x2="1601.22" y2="17.1" stroke="#000000" stroke-width="2.1"/>
<line x1="1631.4" y1="10.65" x2="1631.4" y2="548.35" stroke="#ff0000" stroke-width="2.15"/>
<line x1="1631.4" y1="547.2" x2="1636.7" y2="547.2" stroke="#ff0000" stroke-width="2.1"/>
<line x1="1631.4" y1="480.28" x2="1641.9" y2="480.28" stroke="#ff0000" stroke-width="2.1"/>
<text transform="translate(1649.1 486.83) scale(1 1.035)" font-size="22.7" fill="#ff0000" stroke="#ff0000" text-anchor="start">0.2</text>
<line x1="1631.4" y1="413.35" x2="1636.7" y2="413.35" stroke="#ff0000" stroke-width="2.1"/>
<line x1="1631.4" y1="346.42" x2="1641.9" y2="346.42" stroke="#ff0000" stroke-width="2.1"/>
<text transform="translate(1649.1 352.97) scale(1 1.035)" font-size="22.7" fill="#ff0000" stroke="#ff0000" text-anchor="start">0.4</text>
<line x1="1631.4" y1="279.5" x2="1636.7" y2="279.5" stroke="#ff0000" stroke-width="2.1"/>
<line x1="1631.4" y1="212.57" x2="1641.9" y2="212.57" stroke="#ff0000" stroke-width="2.1"/>
<text transform="translate(1649.1 219.12) scale(1 1.035)" font-size="22.7" fill="#ff0000" stroke="#ff0000" text-anchor="start">0.6</text>
<line x1="1631.4" y1="145.65" x2="1636.7" y2="145.65" stroke="#ff0000" stroke-width="2.1"/>
<line x1="1631.4" y1="78.72" x2="1641.9" y2="78.72" stroke="#ff0000" stroke-width="2.1"/>
<text transform="translate(1649.1 85.27) scale(1 1.035)" font-size="22.7" fill="#ff0000" stroke="#ff0000" text-anchor="start">0.8</text>
<line x1="1631.4" y1="11.8" x2="1636.7" y2="11.8" stroke="#ff0000" stroke-width="2.1"/>
<text transform="translate(1299.45 626.7)" font-size="28.1" fill="#000000" stroke="#000000" text-anchor="middle">Tube Current-Time Product (mAs)</text>
<text transform="translate(905.6 279.3) rotate(-90)" font-size="27.9" fill="#000000" stroke="#000000" text-anchor="middle">C-V Signal With Screens (mV)</text>
<text transform="translate(1711.8 279.45) rotate(-90)" font-size="27.9" fill="#000000" stroke="#000000" text-anchor="middle">C-V Signal Without Screens (mV)</text>
<text transform="translate(1275.8 708.4)" font-size="41" fill="#000000" stroke="#000000" text-anchor="middle">(b)</text>
<rect x="985.7" y="30.8" width="179.7" height="138.4" fill="#fff" stroke="#333" stroke-width="1.2"/>
<line x1="987.5" y1="43.2" x2="1000.9" y2="43.2" stroke="#0000ff" stroke-width="1.5"/>
<line x1="1015.3" y1="43.2" x2="1028.7" y2="43.2" stroke="#0000ff" stroke-width="1.5"/>
<rect x="1002.9" y="38" width="10.4" height="10.4" fill="#0000ff"/>
<text transform="translate(1033 48.6)" font-size="17.6" fill="#000000" stroke="#000000" text-anchor="start">With Screens</text>
<text transform="translate(987.9 71.2) scale(1 1.035)" font-size="17.6" fill="#000000" stroke="#000000" text-anchor="start">y=0.1696x-0.38969</text>
<text transform="translate(987.9 94.8) scale(1 1.035)" font-size="17.6" fill="#000000" stroke="#000000" text-anchor="start">R<tspan font-size="11.5" dy="-6.8">2</tspan><tspan dy="6.8"> = 0.9915</tspan></text>
<line x1="987.5" y1="111.3" x2="1000.9" y2="111.3" stroke="#ff0000" stroke-width="1.5"/>
<line x1="1015.3" y1="111.3" x2="1028.7" y2="111.3" stroke="#ff0000" stroke-width="1.5"/>
<circle cx="1008.1" cy="111.3" r="5.8" fill="#ff0000"/>
<text transform="translate(1033 116.7)" font-size="17.6" fill="#000000" stroke="#000000" text-anchor="start">Without Screens</text>
<text transform="translate(987.9 138.7) scale(1 1.035)" font-size="17.6" fill="#000000" stroke="#000000" text-anchor="start">y= 0.00596x+0.05484</text>
<text transform="translate(987.9 163) scale(1 1.035)" font-size="17.6" fill="#000000" stroke="#000000" text-anchor="start">R<tspan font-size="11.5" dy="-6.8">2</tspan><tspan dy="6.8"> = 0.7142</tspan></text>
</g>
</svg></body></html>
